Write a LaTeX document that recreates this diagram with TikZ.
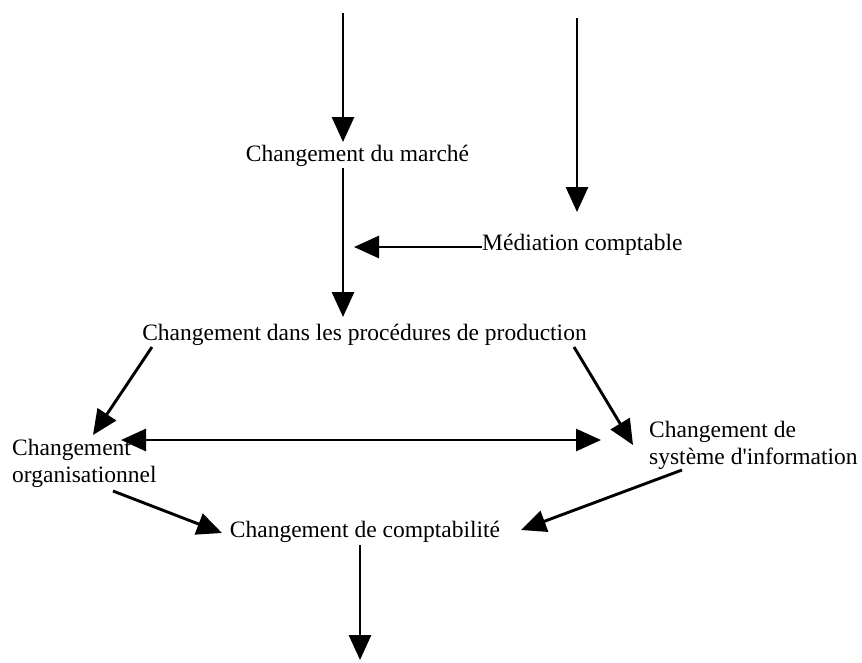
\documentclass[tikz,border=0pt]{standalone}
\usepackage{fontspec}
\newfontfamily\labelfont{Liberation Serif}
\usetikzlibrary{arrows.meta}
\begin{document}
\begin{tikzpicture}[x=1pt,y=-1pt,
  lbl/.style={inner sep=0pt, font=\labelfont\fontsize{23.5}{26.5}\selectfont},
  tip/.tip={Triangle[length=25pt,width=22pt]},
  arr/.style={line width=2.9pt, -tip},
  dbl/.style={line width=2.9pt, tip-tip}]
\useasboundingbox (0,0) rectangle (862,662);

% labels (placed by their baselines)
\node[lbl, anchor=base] (marche) at (357.5,161) {Changement du marché};
\node[lbl, anchor=base west] (med) at (482,250) {Médiation comptable};
\node[lbl, anchor=base] (prod) at (364.5,340) {Changement dans les procédures de production};
\node[lbl, anchor=north west, align=left] (org) at (12,439) {Changement\\organisationnel};
\node[lbl, anchor=north west, align=left] (sys) at (649,421) {Changement de\\système d'information};
\node[lbl, anchor=base] (compta) at (365,537) {Changement de comptabilité};

% arrow ends
\coordinate (inA) at (343,13);
\coordinate (inB) at (577,18);
\coordinate (mTop) at (343,142);
\coordinate (mBot) at (343,168);
\coordinate (pTop) at (343,317);
\coordinate (join) at (354,247);
\coordinate (medL) at (482,247);
\coordinate (medTop) at (577,212);
\coordinate (pL) at (152,347);
\coordinate (pR) at (574,347);
\coordinate (orgTip) at (93,435);
\coordinate (sysTip) at (633,445);
\coordinate (dL) at (121,440);
\coordinate (dR) at (601,440);
\coordinate (orgOut) at (113,491);
\coordinate (cL) at (222,533);
\coordinate (sysOut) at (682,470);
\coordinate (cR) at (521,530);
\coordinate (cBot) at (360,545);
\coordinate (out) at (360,660);

% connectors
\draw[arr] (inA) -- (mTop);
\draw[arr] (mBot) -- (pTop);
\draw[arr] (inB) -- (medTop);
\draw[arr] (medL) -- (join);
\draw[arr] (pL) -- (orgTip);
\draw[arr] (pR) -- (sysTip);
\draw[dbl] (dL) -- (dR);
\draw[arr] (orgOut) -- (cL);
\draw[arr] (sysOut) -- (cR);
\draw[arr] (cBot) -- (out);
\end{tikzpicture}
\end{document}
